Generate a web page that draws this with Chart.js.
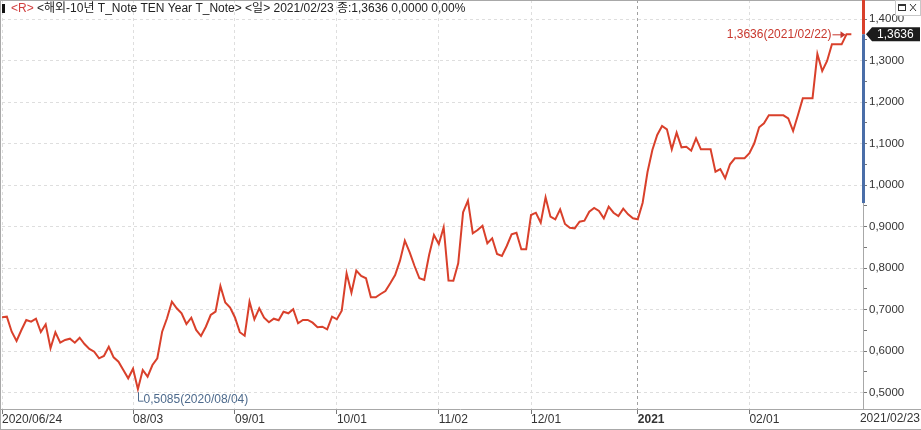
<!DOCTYPE html>
<html>
<head>
<meta charset="utf-8">
<script src="https://cdn.jsdelivr.net/npm/chart.js@4.4.0/dist/chart.umd.min.js"></script>
<style>
  html, body { margin: 0; padding: 0; background: #fff; }
  #wrap { position: relative; width: 921px; height: 430px; }
</style>
</head>
<body>
<div id="wrap"><canvas id="noteChart" width="921" height="430"></canvas></div>
<script>
// 10Y T-Note daily closes, 2020/06/24 ~ 2021/02/23
const closes = [
    0.6817, 0.6831, 0.6470, 0.6246, 0.6511, 0.6752, 0.6711, 0.6783, 0.6463, 0.6648,
    0.6070, 0.6455, 0.6205, 0.6270, 0.6301, 0.6205, 0.6325, 0.6173, 0.6053, 0.5988,
    0.5829, 0.5884, 0.6108, 0.5853, 0.5747, 0.5547, 0.5347, 0.5578, 0.5085, 0.5547,
    0.5386, 0.5667, 0.5829, 0.6470, 0.6793, 0.7193, 0.7034, 0.6913, 0.6655, 0.6807,
    0.6511, 0.6366, 0.6590, 0.6872, 0.6952, 0.7571, 0.7173, 0.7053, 0.6812, 0.6458,
    0.6373, 0.7193, 0.6769, 0.7034, 0.6807, 0.6696, 0.6783, 0.6745, 0.6952, 0.6913,
    0.7010, 0.6672, 0.6752, 0.6752, 0.6687, 0.6576, 0.6590, 0.6528, 0.6831, 0.6769,
    0.6976, 0.7877, 0.7410, 0.7940, 0.7812, 0.7757, 0.7299, 0.7299, 0.7378, 0.7451,
    0.7636, 0.7836, 0.8181, 0.8663, 0.8383, 0.8053, 0.7757, 0.7716, 0.8318, 0.8800,
    0.8583, 0.8986, 0.7704, 0.7699, 0.8118, 0.9347, 0.9627, 0.8841, 0.8920, 0.9024,
    0.8600, 0.8720, 0.8342, 0.8294, 0.8535, 0.8817, 0.8855, 0.8455, 0.8455, 0.9282,
    0.9337, 0.9096, 0.9708, 0.9241, 0.9178, 0.9419, 0.9065, 0.8976, 0.8961, 0.9120,
    0.9145, 0.9361, 0.9451, 0.9378, 0.9202, 0.9482, 0.9337, 0.9258, 0.9434, 0.9299,
    0.9202, 0.9178, 0.9578, 1.0318, 1.0848, 1.1210, 1.1427, 1.1347, 1.0865, 1.1265,
    1.0913, 1.0928, 1.0831, 1.1130, 1.0865, 1.0865, 1.0865, 1.0325, 1.0390, 1.0166,
    1.0504, 1.0648, 1.0648, 1.0648, 1.0769, 1.1010, 1.1395, 1.1492, 1.1684, 1.1684,
    1.1684, 1.1684, 1.1612, 1.1306, 1.1692, 1.2094, 1.2094, 1.2094, 1.3161, 1.2752,
    1.2993, 1.3395, 1.3395, 1.3395, 1.3636, 1.3636
];

// x axis: which point each date label sits on
const tickIdx = [0, 27, 48, 69, 90, 109, 131, 154];
const tickLabels = ['2020/06/24', '08/03', '09/01', '10/01', '11/02', '12/01', '2021', '02/01'];
const lastLabel = '2021/02/23';
const yearIdx = 131;

// y axis ticks (labels only on the 0.1 steps)
const yTicks = [0.5, 0.55, 0.6, 0.65, 0.7, 0.75, 0.8, 0.85, 0.9, 0.95,
                1.0, 1.05, 1.1, 1.15, 1.2, 1.25, 1.3, 1.35, 1.4];
const rangeLow = 0.957;

const maxDate = '2021/02/22';
const minDate = '2020/08/04';
const titleMark = '<R>';
const titleText = ' <해외-10년 T_Note TEN Year T_Note> <일> 2021/02/23 종:1,3636 0,0000 0,00%';

const FONT = '"Liberation Sans", "Noto Sans CJK KR", sans-serif';

const fmt = v => v.toFixed(4).replace('.', ',');
const isMajor = v => Math.abs(v * 10 - Math.round(v * 10)) < 1e-6;

// Extra drawing: frame, title, value bar, price box, min/max notes
const decor = {
    id: 'decor',
    afterDraw(chart) {
        const { ctx, chartArea: a, scales: { x, y } } = chart;
        const last = closes[closes.length - 1];
        ctx.save();

        // frame and axis lines
        ctx.strokeStyle = '#a8a8a8';
        ctx.lineWidth = 1;
        ctx.beginPath();
        ctx.moveTo(0.5, 0); ctx.lineTo(0.5, 430);
        ctx.moveTo(0, 0.5); ctx.lineTo(921, 0.5);
        ctx.moveTo(0, 429.5); ctx.lineTo(921, 429.5);
        ctx.moveTo(0, Math.round(a.bottom) + 0.5); ctx.lineTo(921, Math.round(a.bottom) + 0.5);
        ctx.moveTo(Math.round(a.right) + 0.5, 0); ctx.lineTo(Math.round(a.right) + 0.5, a.bottom);
        ctx.stroke();

        // value bar on the axis
        const yLast = y.getPixelForValue(last);
        ctx.fillStyle = '#d9402b';
        ctx.fillRect(a.right - 1, 0, 3, yLast);
        ctx.fillStyle = '#4a6ea8';
        ctx.fillRect(a.right - 1, yLast, 3, y.getPixelForValue(rangeLow) - yLast);

        // current price box
        ctx.fillStyle = '#1c1c1c';
        ctx.beginPath();
        ctx.moveTo(a.right + 3, yLast);
        ctx.lineTo(a.right + 9, yLast - 7);
        ctx.lineTo(920, yLast - 7);
        ctx.lineTo(920, yLast + 7);
        ctx.lineTo(a.right + 9, yLast + 7);
        ctx.closePath();
        ctx.fill();
        ctx.fillStyle = '#fff';
        ctx.font = '12px ' + FONT;
        ctx.textBaseline = 'middle';
        ctx.textAlign = 'left';
        ctx.fillText(fmt(last), a.right + 14, yLast + 0.5);

        // last date label under the axis
        ctx.fillStyle = '#333';
        ctx.font = '12px ' + FONT;
        ctx.textAlign = 'right';
        ctx.fillText(lastLabel, 920, a.bottom + 9.5);

        // max note
        let hi = 0, lo = 0;
        closes.forEach((v, i) => {
            if (v > closes[hi] || (v === closes[hi] && i < closes.length - 1)) hi = i;
            if (v < closes[lo]) lo = i;
        });
        const hx = x.getPixelForValue(hi), hy = y.getPixelForValue(closes[hi]);
        ctx.strokeStyle = '#c8372d';
        ctx.fillStyle = '#c8372d';
        ctx.beginPath();
        ctx.moveTo(hx - 14, hy + 0.5); ctx.lineTo(hx - 2, hy + 0.5);
        ctx.stroke();
        ctx.beginPath();
        ctx.moveTo(hx - 1, hy + 0.5); ctx.lineTo(hx - 6, hy - 3); ctx.lineTo(hx - 6, hy + 4);
        ctx.closePath();
        ctx.fill();
        ctx.font = '12px ' + FONT;
        ctx.textAlign = 'right';
        ctx.fillText(fmt(closes[hi]) + '(' + maxDate + ')', hx - 15, hy + 0.5);

        // min note
        const lx = Math.round(x.getPixelForValue(lo)) + 0.5, ly = y.getPixelForValue(closes[lo]);
        ctx.strokeStyle = '#4d6a8c';
        ctx.fillStyle = '#4d6a8c';
        ctx.beginPath();
        ctx.moveTo(lx, ly + 3); ctx.lineTo(lx, ly + 12); ctx.lineTo(lx + 5, ly + 12);
        ctx.stroke();
        ctx.textAlign = 'left';
        ctx.fillText(fmt(closes[lo]) + '(' + minDate + ')', lx + 5, ly + 11);

        // title line
        ctx.fillStyle = '#111';
        ctx.fillRect(2, 4, 3, 9);
        ctx.font = '12px ' + FONT;
        ctx.textAlign = 'left';
        ctx.fillStyle = '#d04040';
        ctx.fillText(titleMark, 11, 9);
        const w = ctx.measureText(titleMark).width;
        ctx.fillStyle = '#222';
        ctx.fillText(titleText, 11 + w, 9);

        // little window buttons
        ctx.fillStyle = '#fff';
        ctx.fillRect(896, 1, 24, 14);
        ctx.strokeStyle = '#c8c8c8';
        ctx.strokeRect(895.5, 0.5, 25, 15);
        ctx.strokeStyle = '#333';
        ctx.strokeRect(898.5, 4.5, 7, 6);
        ctx.fillStyle = '#333';
        ctx.fillRect(898, 4, 8, 2);
        ctx.beginPath();
        ctx.moveTo(910, 4); ctx.lineTo(916, 11);
        ctx.moveTo(916, 4); ctx.lineTo(910, 11);
        ctx.stroke();

        ctx.restore();
    }
};

const noteCtx = document.getElementById('noteChart');
if (noteCtx) {
    const noteChart = new Chart(noteCtx, {
        type: 'line',
        data: {
            datasets: [{
                data: closes.map((v, i) => ({ x: i, y: v })),
                borderColor: '#d9402b',
                borderWidth: 2,
                pointRadius: 0,
                tension: 0,
                fill: false
            }]
        },
        options: {
            responsive: false,
            animation: false,
            layout: { padding: { left: 2, top: 0, right: 0, bottom: 0 } },
            plugins: { legend: { display: false }, tooltip: { enabled: false } },
            scales: {
                x: {
                    type: 'linear',
                    min: 0,
                    max: 177.4,
                    afterBuildTicks: s => { s.ticks = tickIdx.map(v => ({ value: v })); },
                    afterFit: s => { s.height = 21; s.paddingLeft = 0; s.paddingRight = 0; },
                    ticks: {
                        autoSkip: false,
                        maxRotation: 0,
                        align: 'start',
                        padding: -2,
                        color: '#333',
                        font: c => ({ family: FONT, size: 12, weight: c.index === tickIdx.indexOf(yearIdx) ? 'bold' : 'normal' }),
                        callback: (v, i) => tickLabels[i]
                    },
                    grid: {
                        color: c => (c.tick && c.tick.value === yearIdx) ? '#a0a0a0' : '#dedede',
                        tickLength: 5,
                        tickColor: '#777'
                    },
                    border: { display: false, dash: [3, 3] }
                },
                y: {
                    position: 'right',
                    min: 0.4607,
                    max: 1.4463,
                    afterBuildTicks: s => { s.ticks = yTicks.map(v => ({ value: v })); },
                    afterFit: s => { s.width = 58; s.paddingTop = 0; s.paddingBottom = 0; },
                    ticks: {
                        autoSkip: false,
                        padding: 2,
                        color: '#333',
                        font: { family: FONT, size: 11.5 },
                        callback: v => isMajor(v) ? fmt(v) : ''
                    },
                    grid: {
                        color: c => (c.tick && isMajor(c.tick.value)) ? '#dedede' : 'rgba(0,0,0,0)',
                        tickLength: 4,
                        tickColor: '#777'
                    },
                    border: { display: false, dash: [3, 3] }
                }
            }
        },
        plugins: [decor]
    });
}
</script>
</body>
</html>
